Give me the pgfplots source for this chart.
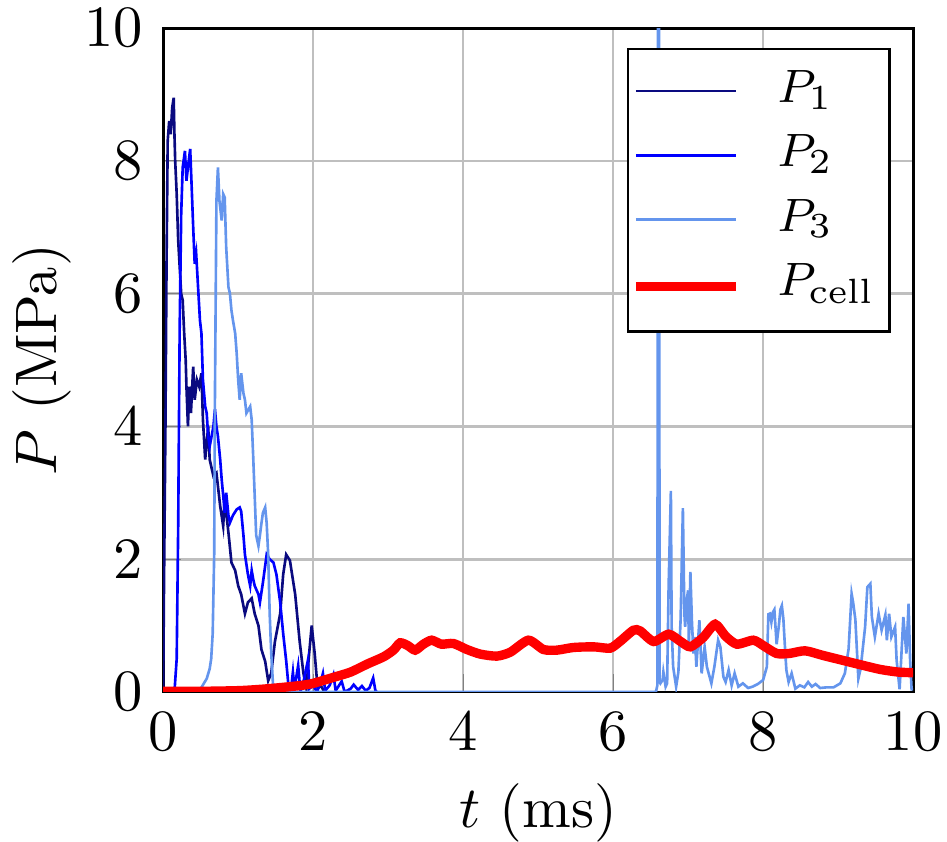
\documentclass[border=0pt]{standalone}
\usepackage{pgfplots}
\pgfplotsset{compat=1.18}
\definecolor{pone}{RGB}{10,10,128}
\definecolor{ptwo}{RGB}{0,0,255}
\definecolor{pthree}{RGB}{100,149,237}
\begin{document}
\begin{tikzpicture}
\begin{axis}[
  scale only axis, width=128.2pt, height=113.5pt,
  xmin=0, xmax=10, ymin=0, ymax=10,
  xtick={0,2,4,6,8,10}, ytick={0,2,4,6,8,10},
  tick pos=left, tick align=inside, major tick length=3pt,
  grid=major, grid style={gray!50, line width=0.45pt},
  axis line style={line width=0.5pt},
  xlabel={$t$ (ms)}, ylabel={$P$ (MPa)},
  ylabel shift=-4.7pt, xlabel shift=-1.2pt,
  legend cell align=left,
  legend style={at={(0.97,0.97)}, anchor=north east, draw=black, line width=0.4pt,
    font=\footnotesize, inner xsep=0.5pt, inner ysep=1.7pt,
    row sep=0pt, column sep=4.3pt},
]
\addplot[pone, line width=0.45pt] coordinates {
(0,0) (0.01,1.5) (0.03,4) (0.045,6.5) (0.06,8.3) (0.08,8.6) (0.1,8.4) (0.12,8.8) (0.14,8.95) (0.15,8.4) (0.16,8.0) (0.18,7.5) (0.2,6.8) (0.22,6.4) (0.24,6.0) (0.26,5.9) (0.28,5.4) (0.30,5.0) (0.31,4.6) (0.33,4.0) (0.35,4.6) (0.37,4.2) (0.40,4.9) (0.42,4.4) (0.45,4.7) (0.48,4.6) (0.51,4.8) (0.53,4.1) (0.56,3.5) (0.6,4.0) (0.62,3.5) (0.67,3.25) (0.71,3.3) (0.76,2.8) (0.80,2.5) (0.82,2.9) (0.87,2.4) (0.91,1.95) (0.96,1.83) (1.0,1.6) (1.04,1.47) (1.09,1.18) (1.13,1.35) (1.18,1.41) (1.22,1.18) (1.27,1.0) (1.31,0.64) (1.36,0.46) (1.40,0.17) (1.44,0.28) (1.49,0.76) (1.56,1.18) (1.6,1.77) (1.64,2.07) (1.69,1.98) (1.76,1.47) (1.82,0.76) (1.87,0.28) (1.91,0.05) (1.94,0.5) (1.98,1.0) (2.02,0.58) (2.06,0.05) (2.1,0.1) (2.15,0.0)
};
\addlegendentry{$P_1$}
\addplot[ptwo, line width=0.45pt] coordinates {
(0,0) (0.15,0) (0.18,0.5) (0.2,2.5) (0.22,5.5) (0.24,7.2) (0.26,7.9) (0.29,8.15) (0.31,7.7) (0.33,7.9) (0.36,8.18) (0.38,7.6) (0.40,7.0) (0.42,6.45) (0.44,6.6) (0.47,6.0) (0.49,5.6) (0.51,5.4) (0.53,4.7) (0.56,4.3) (0.58,4.2) (0.6,3.85) (0.62,3.7) (0.67,4.0) (0.69,4.26) (0.71,4.0) (0.73,3.85) (0.76,3.5) (0.78,3.2) (0.8,2.96) (0.82,2.7) (0.84,3.0) (0.87,2.66) (0.89,2.55) (0.93,2.66) (0.98,2.75) (1.02,2.78) (1.04,2.72) (1.07,2.36) (1.09,2.07) (1.13,1.77) (1.16,1.6) (1.18,1.83) (1.2,1.7) (1.22,1.6) (1.27,1.47) (1.29,1.35) (1.33,1.65) (1.38,2.07) (1.42,2.0) (1.47,1.95) (1.51,1.77) (1.56,1.35) (1.6,0.88) (1.64,0.47) (1.67,0.1) (1.7,0.0) (1.73,0.3) (1.75,0.05) (1.8,0.4) (1.83,0.0) (1.88,0.2) (1.93,0.48) (1.95,0.05) (2.0,0.1) (2.05,0.0) (2.1,0.15) (2.13,0.28) (2.16,0.02) (2.22,0.1) (2.27,0.26) (2.3,0.02) (2.38,0.16) (2.42,0.0) (2.5,0.05) (2.54,0.11) (2.6,0.03) (2.65,0.09) (2.7,0.02) (2.75,0.06) (2.8,0.21) (2.83,0.02) (2.85,0)
};
\addlegendentry{$P_2$}
\addplot[pthree, line width=0.45pt] coordinates {
(0,0) (0.4,0) (0.5,0.05) (0.58,0.2) (0.62,0.35) (0.64,0.5) (0.66,0.88) (0.68,2.07) (0.69,4.44) (0.71,7.4) (0.73,7.9) (0.75,7.4) (0.78,7.1) (0.8,7.5) (0.82,7.45) (0.84,6.7) (0.87,6.1) (0.89,6.0) (0.91,5.75) (0.93,5.6) (0.96,5.4) (0.98,5.1) (1.0,4.7) (1.02,4.4) (1.04,4.8) (1.07,4.5) (1.09,4.4) (1.11,4.2) (1.16,4.3) (1.18,4.1) (1.2,3.55) (1.22,2.96) (1.24,2.36) (1.27,2.2) (1.29,2.36) (1.31,2.54) (1.33,2.7) (1.36,2.78) (1.38,2.54) (1.4,2.07) (1.42,1.18) (1.44,0.6) (1.47,0) (6.57,0) (6.59,0.1) (6.60,12) (6.61,12) (6.62,0.15) (6.63,0.13) (6.66,0.18) (6.67,0.3) (6.70,0.08) (6.72,0.13) (6.74,1.6) (6.77,3.03) (6.78,0.98) (6.80,0.38) (6.84,0.08) (6.87,0.3) (6.90,1.1) (6.93,2.77) (6.95,1.18) (6.96,0.98) (6.98,1.38) (7.0,1.53) (7.01,0.65) (7.03,1.81) (7.05,1.08) (7.07,0.58) (7.09,0.83) (7.11,0.38) (7.15,1.08) (7.18,0.28) (7.22,0.68) (7.25,0.38) (7.31,0.13) (7.35,0.38) (7.40,0.78) (7.43,0.68) (7.47,0.23) (7.50,0.15) (7.54,0.33) (7.58,0.1) (7.62,0.28) (7.67,0.08) (7.73,0.13) (7.80,0.06) (7.86,0.08) (7.93,0.12) (8.0,0.18) (8.05,0.38) (8.07,1.17) (8.09,1.18) (8.11,1.05) (8.13,1.2) (8.15,1.24) (8.18,0.72) (8.21,1.0) (8.23,1.24) (8.25,1.3) (8.27,1.1) (8.29,0.7) (8.31,0.33) (8.34,0.15) (8.38,0.28) (8.43,0.05) (8.49,0.1) (8.55,0.07) (8.60,0.15) (8.65,0.08) (8.70,0.12) (8.76,0.06) (8.85,0.07) (8.94,0.07) (9.03,0.13) (9.09,0.28) (9.14,0.65) (9.18,1.48) (9.20,1.35) (9.23,1.09) (9.27,0.2) (9.30,0.35) (9.36,0.98) (9.39,1.58) (9.43,1.63) (9.45,1.13) (9.49,0.83) (9.54,1.18) (9.58,0.93) (9.63,1.16) (9.65,0.78) (9.68,1.18) (9.71,0.83) (9.76,0.98) (9.78,0.48) (9.82,0.04) (9.87,1.13) (9.91,0.58) (9.94,1.33) (9.96,0.48) (9.98,0.04) (10,0.04)
};
\addlegendentry{$P_3$}
\addplot[red, line width=1.6pt, smooth, tension=0.4] coordinates {
(0,0.01) (0.5,0.01) (1.0,0.02) (1.3,0.04) (1.6,0.07) (1.85,0.1) (2.0,0.13) (2.27,0.22) (2.5,0.3) (2.72,0.42) (2.94,0.53) (3.07,0.63) (3.16,0.74) (3.26,0.7) (3.36,0.63) (3.47,0.72) (3.58,0.78) (3.71,0.72) (3.87,0.73) (4.05,0.64) (4.23,0.57) (4.45,0.54) (4.63,0.6) (4.87,0.78) (5.07,0.64) (5.25,0.63) (5.47,0.67) (5.74,0.68) (5.96,0.66) (6.09,0.76) (6.27,0.93) (6.36,0.92) (6.54,0.76) (6.74,0.87) (6.9,0.76) (7.03,0.68) (7.2,0.82) (7.36,1.02) (7.5,0.84) (7.65,0.72) (7.87,0.78) (8.0,0.7) (8.18,0.58) (8.35,0.58) (8.56,0.62) (8.8,0.55) (9.12,0.46) (9.3,0.41) (9.56,0.34) (9.8,0.3) (10,0.29)
};
\addlegendentry[text depth=2.5pt]{$P_{\mathrm{cell}}$}
\coordinate (bl) at (rel axis cs:0,0);
\coordinate (tr) at (rel axis cs:1,1);
\end{axis}
\pgfresetboundingbox
\path[use as bounding box] ([shift={(-27.9pt,-25.6pt)}]bl) rectangle ([shift={(5.8pt,4.8pt)}]tr);
\end{tikzpicture}
\end{document}
